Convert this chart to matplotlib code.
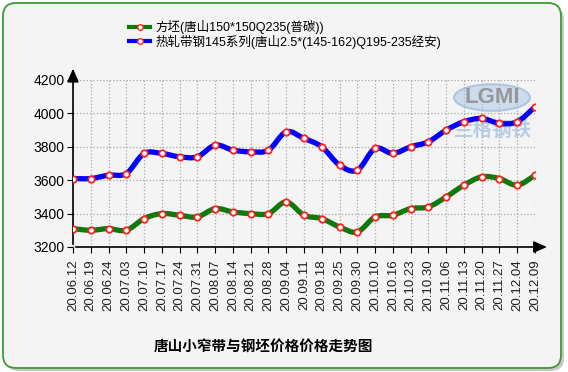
import numpy as np
import matplotlib
matplotlib.use('Agg')
import matplotlib.pyplot as plt
from matplotlib.path import Path
from matplotlib.patches import PathPatch, FancyBboxPatch, Ellipse
from matplotlib.lines import Line2D

plt.rcParams['font.family'] = ['Liberation Sans', 'Noto Sans CJK SC']

# data
dates = ['20.06.12', '20.06.19', '20.06.24', '20.07.03', '20.07.10', '20.07.17',
         '20.07.24', '20.07.31', '20.08.07', '20.08.14', '20.08.21', '20.08.28',
         '20.09.04', '20.09.11', '20.09.18', '20.09.25', '20.09.30', '20.10.10',
         '20.10.16', '20.10.23', '20.10.30', '20.11.06', '20.11.13', '20.11.20',
         '20.11.27', '20.12.04', '20.12.09']
billet = [3310, 3300, 3310, 3300, 3370, 3400, 3390, 3380, 3430, 3410, 3400, 3400,
          3470, 3390, 3370, 3320, 3290, 3380, 3390, 3430, 3440, 3500, 3570, 3620,
          3610, 3570, 3630]
strip = [3610, 3610, 3630, 3640, 3760, 3760, 3740, 3740, 3810, 3780, 3770, 3780,
         3890, 3850, 3800, 3690, 3660, 3790, 3760, 3800, 3830, 3900, 3950, 3970,
         3940, 3950, 4040]
yticks = [3200, 3400, 3600, 3800, 4000, 4200]
name_billet = '方坯(唐山150*150Q235(普碳))'
name_strip = '热轧带钢145系列(唐山2.5*(145-162)Q195-235经安)'
title = '唐山小窄带与钢坯价格价格走势图'

GREEN = '#0a7a0a'
BLUE = '#0000ff'
RED = '#ff2020'


def smooth_path(x, y):
    # catmull-rom curve through the points, as cubic bezier segments
    pts = np.column_stack([x, y]).astype(float)
    verts = [pts[0]]
    codes = [Path.MOVETO]
    n = len(pts)
    for i in range(n - 1):
        p0 = pts[max(i - 1, 0)]
        p1 = pts[i]
        p2 = pts[i + 1]
        p3 = pts[min(i + 2, n - 1)]
        c1 = p1 + (p2 - p0) / 6.0
        c2 = p2 - (p3 - p1) / 6.0
        verts += [c1, c2, p2]
        codes += [Path.CURVE4] * 3
    return Path(verts, codes)


fig = plt.figure(figsize=(5.68, 3.72), dpi=100, facecolor='white')

# rounded panel with a soft shadow
shadow = FancyBboxPatch((0.06, 0.01), 5.58, 3.64, boxstyle='round,pad=0,rounding_size=0.13',
                        transform=fig.dpi_scale_trans, facecolor='#c8c8c8', edgecolor='none', zorder=-3)
panel = FancyBboxPatch((0.03, 0.04), 5.58, 3.65, boxstyle='round,pad=0,rounding_size=0.13',
                       transform=fig.dpi_scale_trans, facecolor='#f4f4f4', edgecolor='#3d9b35', lw=1.3,
                       zorder=-2)
fig.patches.extend([shadow, panel])

ax = fig.add_axes([73 / 568, 1 - 247 / 372, 462 / 568, 167 / 372])
ax.set_facecolor('none')
x = np.arange(len(dates))

# watermark logo
ax.add_patch(Ellipse((0.907, 0.895), 0.165, 0.16, transform=ax.transAxes, facecolor='#b4cbe8',
                     edgecolor='#8fb0d8', lw=1.5, alpha=0.6, zorder=1))
ax.text(0.907, 0.895, 'LGMI', transform=ax.transAxes, ha='center', va='center', fontsize=16,
        fontweight='bold', color='#8c8c8c', alpha=0.85, zorder=2)
ax.text(0.907, 0.70, '兰格钢铁', transform=ax.transAxes, ha='center', va='center', fontsize=14,
        fontweight='bold', color='#a6bfe0', alpha=0.75, zorder=2)

for vals, col in [(billet, GREEN), (strip, BLUE)]:
    ax.add_patch(PathPatch(smooth_path(x, vals), facecolor='none', edgecolor=col,
                           lw=3.8, capstyle='round', joinstyle='round', zorder=3))
    ax.plot(x, vals, ls='none', marker='o', ms=4.6, mfc='white', mec=RED, mew=1.3, zorder=4)

ax.set_xlim(0, len(dates) - 1)
ax.set_ylim(3200, 4200)
ax.set_yticks(yticks)
ax.set_xticks(x)
ax.set_xticklabels(dates, rotation=90, fontsize=9.5, color='#202020')
ax.tick_params(axis='y', labelsize=10, length=4, direction='out', pad=2)
ax.tick_params(axis='x', length=4, direction='out', pad=5)
ax.grid(True, ls=':', color='#a8a8a8', lw=0.9)
ax.set_axisbelow(True)
for s in ax.spines.values():
    s.set_visible(False)

# axes drawn as arrows
ax.annotate('', xy=(1.032, 0), xytext=(0, 0), xycoords='axes fraction',
            arrowprops=dict(arrowstyle='-|>,head_length=0.8,head_width=0.35', color='black', lw=1.2),
            annotation_clip=False)
ax.annotate('', xy=(0, 1.085), xytext=(0, 0), xycoords='axes fraction',
            arrowprops=dict(arrowstyle='-|>,head_length=0.8,head_width=0.35', color='black', lw=1.2),
            annotation_clip=False)

handles = [Line2D([], [], color=GREEN, lw=3, marker='o', ms=4, mfc='white', mec=RED),
           Line2D([], [], color=BLUE, lw=3, marker='o', ms=4, mfc='white', mec=RED)]
fig.legend(handles, [name_billet, name_strip], loc='upper left', bbox_to_anchor=(129 / 568, 1 - 20 / 372),
           frameon=False, fontsize=9, handlelength=1.7, handletextpad=0.45, labelspacing=0.05,
           borderaxespad=0, borderpad=0)

fig.text(263 / 568, 1 - 347 / 372, title, ha='center', va='center', fontsize=10.5, fontweight='bold')

fig.savefig('out.png', dpi=100, facecolor='white')
